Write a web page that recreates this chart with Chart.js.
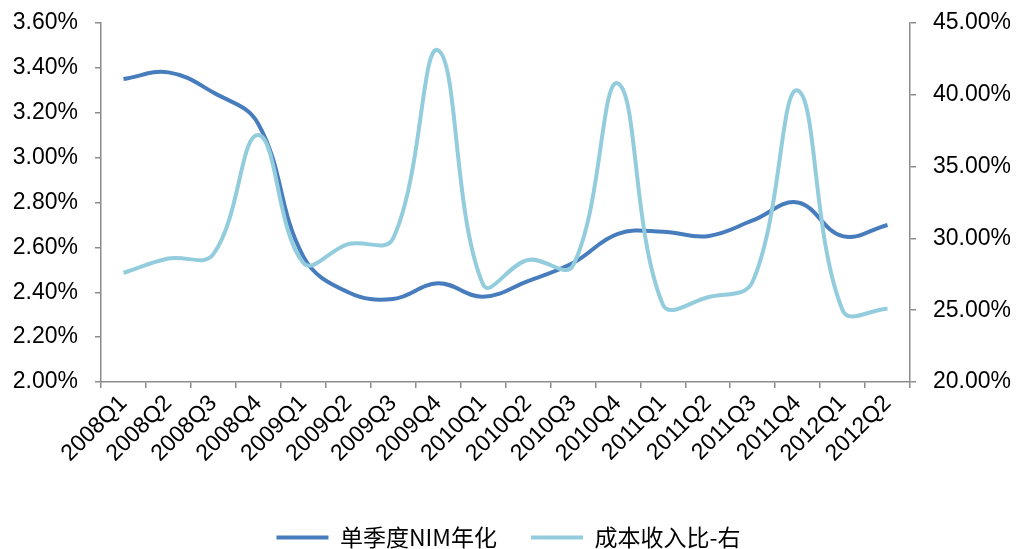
<!DOCTYPE html>
<html>
<head>
<meta charset="utf-8">
<script src="https://cdn.jsdelivr.net/npm/chart.js@4/dist/chart.umd.min.js"></script>
<style>
  html, body { margin: 0; padding: 0; background: #ffffff; }
  #wrap { position: relative; width: 1017px; height: 549px; }
</style>
</head>
<body>
<div id="wrap"><canvas id="c" width="1017" height="549"></canvas></div>
<script>
// Quarterly categories
const quarters = [
  '2008Q1', '2008Q2', '2008Q3', '2008Q4',
  '2009Q1', '2009Q2', '2009Q3', '2009Q4',
  '2010Q1', '2010Q2', '2010Q3', '2010Q4',
  '2011Q1', '2011Q2', '2011Q3', '2011Q4',
  '2012Q1', '2012Q2'
];

// Annualised single-quarter NIM (%), left axis
const nimAnnualised = [
  3.35, 3.38, 3.29, 3.15,
  2.56, 2.40, 2.37, 2.44,
  2.38, 2.45, 2.53, 2.66,
  2.67, 2.65, 2.72, 2.80,
  2.65, 2.70
];

// Cost-to-income ratio (%), right axis
const costIncome = [
  27.6, 28.6, 28.9, 37.2,
  28.3, 29.6, 30.0, 43.1,
  26.8, 28.5, 28.1, 40.8,
  25.4, 25.9, 27.0, 40.3,
  25.0, 25.1
];

// Axis tick settings
const leftTicks = { min: 2.0, max: 3.6, step: 0.2 };
const rightTicks = { min: 20, max: 45, step: 5 };

const seriesNames = ['单季度NIM年化', '成本收入比-右'];

const axisGrey = '#8c8c8c';
const tickFont = { family: '"Liberation Sans", Arial, sans-serif', size: 23 };

// Nudges the legend toward the bottom edge
const layoutTweak = {
  id: 'layoutTweak',
  afterLayout(chart) {
    const lg = chart.legend;
    if (lg) { lg.top += 10; lg.bottom += 10; }
  }
};

// Fixed side-axis width without the extra label padding above/below
const fixVertical = width => s => {
  s.width = width;
  s.paddingTop = 0;
  s.paddingBottom = 0;
};

new Chart(document.getElementById('c'), {
  type: 'line',
  data: {
    labels: quarters,
    datasets: [
      {
        label: seriesNames[0],
        data: nimAnnualised,
        yAxisID: 'yLeft',
        borderColor: '#477dbd',
        backgroundColor: '#477dbd',
        borderWidth: 4,
        pointRadius: 0,
        tension: 0.4,
        order: 1
      },
      {
        label: seriesNames[1],
        data: costIncome,
        yAxisID: 'yRight',
        borderColor: '#93cddd',
        backgroundColor: '#93cddd',
        borderWidth: 4,
        pointRadius: 0,
        tension: 0.4,
        order: 0
      }
    ]
  },
  options: {
    responsive: false,
    animation: false,
    layout: { padding: { top: 23, left: 0, right: 0, bottom: 0 } },
    plugins: {
      tooltip: { enabled: false },
      legend: {
        position: 'bottom',
        labels: {
          boxWidth: 52,
          boxHeight: 4,
          padding: 34,
          color: '#000',
          font: { family: '"Noto Sans CJK SC", "Liberation Sans", sans-serif', size: 23 },
          sort: (a, b) => a.datasetIndex - b.datasetIndex,
          generateLabels(chart) {
            const items = Chart.defaults.plugins.legend.labels.generateLabels(chart);
            items.forEach(it => {
              const ds = chart.data.datasets[it.datasetIndex];
              it.fillStyle = ds.borderColor;
              it.strokeStyle = ds.borderColor;
              it.lineWidth = 0;
            });
            return items;
          }
        }
      }
    },
    scales: {
      x: {
        type: 'category',
        offset: true,
        grid: {
          offset: true,
          drawOnChartArea: false,
          drawTicks: true,
          tickLength: 6,
          color: axisGrey,
          lineWidth: 1.5
        },
        border: { color: axisGrey, width: 1.5 },
        ticks: {
          color: '#000',
          font: tickFont,
          maxRotation: 45,
          minRotation: 45,
          autoSkip: false,
          padding: 2
        },
        afterFit(s) { s.height = 100; }
      },
      yLeft: {
        type: 'linear',
        position: 'left',
        min: leftTicks.min,
        max: leftTicks.max,
        grid: {
          drawOnChartArea: false,
          drawTicks: true,
          tickLength: 6,
          color: axisGrey,
          lineWidth: 1.5
        },
        border: { color: axisGrey, width: 1.5 },
        ticks: {
          stepSize: leftTicks.step,
          color: '#000',
          font: tickFont,
          padding: 17,
          callback: v => Number(v).toFixed(2) + '%'
        },
        afterFit: fixVertical(101)
      },
      yRight: {
        type: 'linear',
        position: 'right',
        min: rightTicks.min,
        max: rightTicks.max,
        grid: {
          drawOnChartArea: false,
          drawTicks: true,
          tickLength: 6,
          color: axisGrey,
          lineWidth: 1.5
        },
        border: { color: axisGrey, width: 1.5 },
        ticks: {
          stepSize: rightTicks.step,
          color: '#000',
          font: tickFont,
          padding: 17,
          callback: v => Number(v).toFixed(2) + '%'
        },
        afterFit: fixVertical(107)
      }
    }
  },
  plugins: [layoutTweak]
});
</script>
</body>
</html>
